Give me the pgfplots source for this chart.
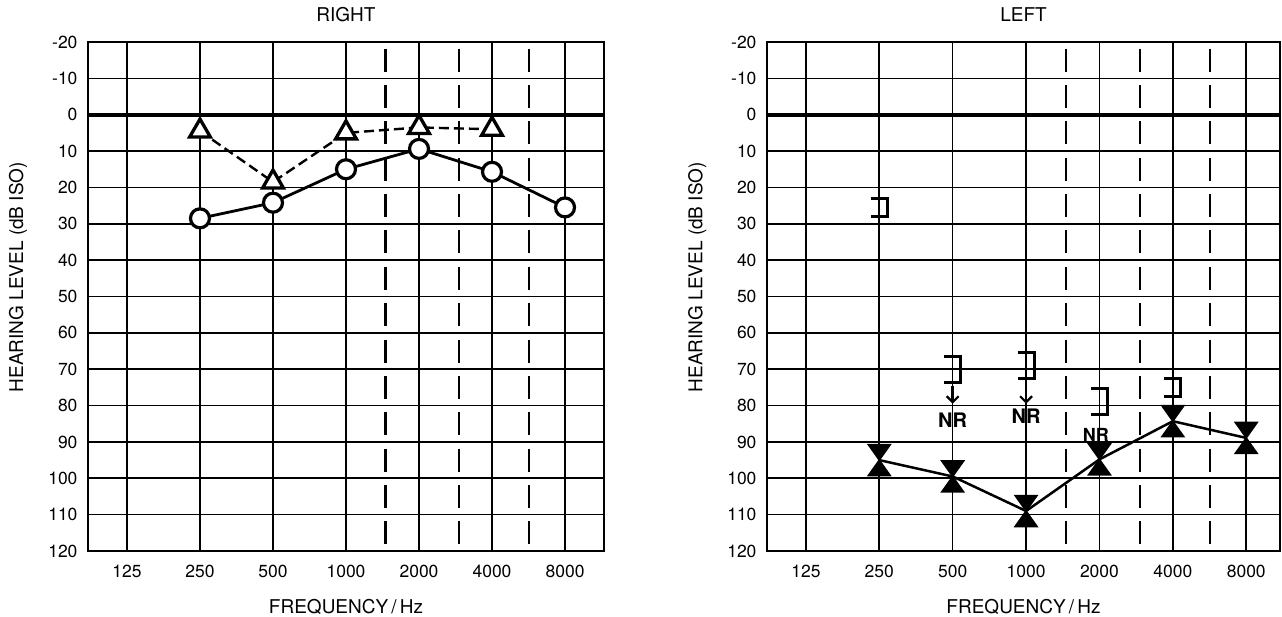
\documentclass[border=0pt]{standalone}
\usepackage{fontspec}
\setmainfont{TeX Gyre Heros}
\usepackage{pgfplots}
\pgfplotsset{compat=1.18}
\usetikzlibrary{arrows.meta}

\pgfdeclareplotmark{hourglass}{%
  \pgfpathmoveto{\pgfpoint{-11pt}{15.5pt}}%
  \pgfpathlineto{\pgfpoint{11pt}{15.5pt}}%
  \pgfpathlineto{\pgfpoint{-11pt}{-15.5pt}}%
  \pgfpathlineto{\pgfpoint{11pt}{-15.5pt}}%
  \pgfpathclose
  \pgfusepathqfillstroke}
\pgfdeclareplotmark{rbracket}{%
  \pgfpathmoveto{\pgfpoint{-8.5pt}{9pt}}%
  \pgfpathlineto{\pgfpoint{8pt}{9pt}}%
  \pgfpathlineto{\pgfpoint{8pt}{-9pt}}%
  \pgfpathlineto{\pgfpoint{-8.5pt}{-9pt}}%
  \pgfusepathqstroke}

\pgfplotsset{audiogram/.style={
  scale only axis, anchor=south west,
  height=509pt,
  y dir=reverse, ymin=-20, ymax=120,
  ytick={-20,-10,...,120},
  yticklabels={-20,-10,0,10,20,30,40,50,60,70,80,90,100,110,120},
  xtick={0,1,2,3,4,5,6},
  xticklabels={125,250,500,1000,2000,4000,8000},
  grid=major,
  major grid style={black, line width=1.6pt},
  major tick length=0pt,
  axis line style={black, line width=1.8pt},
  extra y ticks={0}, extra y tick labels={},
  extra y tick style={major grid style={black, line width=3.6pt}},
  extra x ticks={3.54,4.55,5.51}, extra x tick labels={},
  extra x tick style={major grid style={black, line width=2.2pt,
     dash pattern=on 23pt off 13.36pt, dash phase=29.68pt}},
  tick label style={font=\fontsize{17.5}{20}\selectfont},
  yticklabel style={anchor=east, xshift=-7pt},
  xticklabel style={anchor=center, yshift=-20pt},
  label style={font=\fontsize{19}{22}\selectfont},
  title style={font=\fontsize{19}{22}\selectfont, anchor=center, yshift=21pt},
  xlabel={FREQUENCY\,/\,Hz},
  ylabel={HEARING LEVEL (dB ISO)},
  xlabel style={at={(axis description cs:0.5,0)}, anchor=center, yshift=-56pt},
  ylabel style={at={(axis description cs:-0.1357,0.538)}, anchor=center},
  clip=false,
}}

\begin{document}
\begin{tikzpicture}
\path[use as bounding box] (0pt,0pt) rectangle (1282pt,617pt);

% RIGHT ear
\begin{axis}[audiogram, at={(88pt,66pt)}, width=516pt,
  xmin=-0.534, xmax=6.534, title={RIGHT}]
\addplot[black, line width=2.4pt, dash pattern=on 10pt off 5pt,
  mark=triangle*, mark size=12pt,
  mark options={solid, fill=white, draw=black, line width=3.3pt}]
  coordinates {(1,4.5) (2,18.5) (3,5) (4,3.5) (5,4)};
\addplot[black, line width=2.8pt, mark=*, mark size=9.5pt,
  mark options={fill=white, draw=black, line width=3.2pt}]
  coordinates {(1,28.5) (2,24.2) (3,15) (4,9.4) (5,15.7) (6,25.5)};
\end{axis}

% LEFT ear
\begin{axis}[audiogram, at={(767pt,66pt)}, width=513pt,
  xmin=-0.53, xmax=6.46, title={LEFT}]
\addplot[black, line width=2.5pt, mark=hourglass,
  mark options={fill=black, line width=1.5pt}]
  coordinates {(1,95) (2,99.5) (3,109) (4,94.8) (5,84.3) (6,88.9)};
\addplot[only marks, black, mark=rbracket, mark options={line width=3pt}]
  coordinates {(1,25.5) (5,75)};
\addplot[only marks, black, mark=rbracket,
  mark options={yscale=1.45, line width=3pt}]
  coordinates {(2,70) (3,69) (4,79)};
\addplot[black, line width=2.4pt, -{Straight Barb[length=6pt, width=12pt, line width=2.2pt]},
  quiver={u=0, v=\thisrow{v}}]
  table[row sep=\\] {x y v\\ 2 74.5 5\\ 3 74 5.5\\};
\node[font=\bfseries\fontsize{20}{24}\selectfont] at (axis cs:2,84) {NR};
\node[font=\bfseries\fontsize{20}{24}\selectfont] at (axis cs:3,83) {NR};
\node[font=\bfseries\fontsize{18}{22}\selectfont] at (axis cs:3.95,88) {NR};
\end{axis}
\end{tikzpicture}
\end{document}
